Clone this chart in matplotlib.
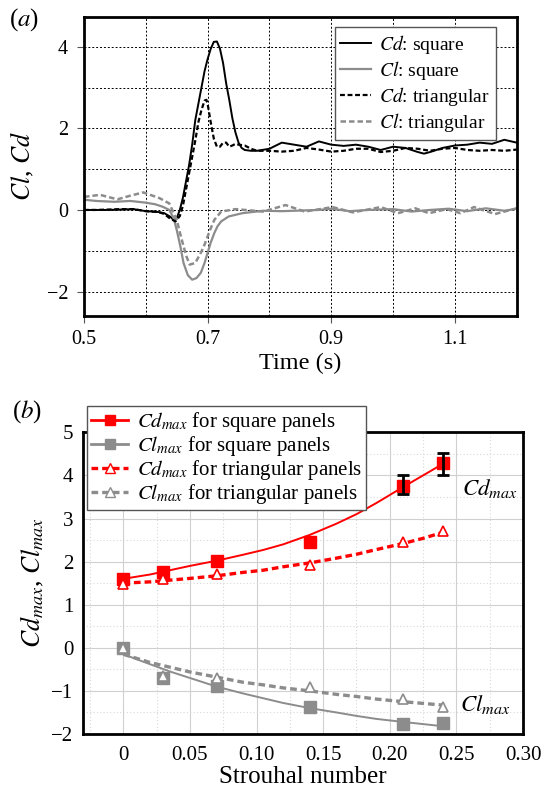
import matplotlib

matplotlib.use('Agg')
import matplotlib.pyplot as plt
from matplotlib.lines import Line2D
from matplotlib.ticker import MultipleLocator

plt.rcParams['font.family'] = ['Liberation Serif', 'DejaVu Serif']
plt.rcParams['mathtext.fontset'] = 'stix'

# (a) tijdreeksen
t_cd_sq = [0.50, 0.52, 0.54, 0.56, 0.58, 0.60, 0.62, 0.63, 0.64, 0.645, 0.65, 0.655, 0.66, 0.665,
           0.67, 0.675, 0.68, 0.685, 0.69, 0.695, 0.70, 0.705, 0.71, 0.715, 0.72, 0.725, 0.73,
           0.735, 0.74, 0.745, 0.75, 0.755, 0.76, 0.77, 0.78, 0.80, 0.82, 0.84, 0.86, 0.88,
           0.90, 0.92, 0.94, 0.96, 0.98, 1.00, 1.02, 1.04, 1.05, 1.06, 1.08, 1.10, 1.12, 1.14,
           1.16, 1.18, 1.20]
cd_sq = [0.0, 0.0, 0.0, 0.01, 0.02, -0.03, -0.05, -0.08, -0.17, -0.25, -0.2, 0.0, 0.3, 0.7,
         1.1, 1.6, 2.2, 2.6, 3.0, 3.4, 3.7, 3.95, 4.12, 4.13, 3.95, 3.6, 3.1,
         2.7, 2.25, 1.9, 1.65, 1.52, 1.47, 1.45, 1.45, 1.5, 1.65, 1.6, 1.55, 1.68,
         1.6, 1.57, 1.6, 1.55, 1.47, 1.55, 1.52, 1.42, 1.38, 1.42, 1.52, 1.58, 1.6, 1.65,
         1.62, 1.72, 1.65]

t_cd_tr = [0.50, 0.52, 0.54, 0.56, 0.58, 0.60, 0.62, 0.63, 0.64, 0.648, 0.655, 0.66, 0.665, 0.67,
           0.675, 0.68, 0.685, 0.69, 0.695, 0.698, 0.70, 0.705, 0.71, 0.715, 0.72, 0.725, 0.73,
           0.735, 0.74, 0.745, 0.75, 0.76, 0.77, 0.78, 0.80, 0.82, 0.84, 0.86, 0.88, 0.90,
           0.92, 0.94, 0.96, 0.98, 1.00, 1.02, 1.04, 1.06, 1.08, 1.10, 1.12, 1.14, 1.16,
           1.18, 1.20]
cd_tr = [0.0, 0.0, 0.01, 0.02, 0.02, -0.03, -0.05, -0.1, -0.22, -0.28, -0.15, 0.1, 0.5, 0.9,
         1.3, 1.7, 2.15, 2.45, 2.68, 2.7, 2.6, 2.15, 1.75, 1.55, 1.55, 1.65, 1.65,
         1.55, 1.58, 1.62, 1.6, 1.58, 1.5, 1.45, 1.45, 1.43, 1.45, 1.52, 1.48, 1.43,
         1.45, 1.5, 1.5, 1.42, 1.45, 1.52, 1.5, 1.45, 1.5, 1.52, 1.47, 1.45, 1.47,
         1.45, 1.48]

t_cl_sq = [0.50, 0.52, 0.549, 0.575, 0.599, 0.615, 0.627, 0.638, 0.645, 0.65, 0.656, 0.661,
           0.668, 0.675, 0.682, 0.689, 0.695, 0.70, 0.705, 0.711, 0.716, 0.722, 0.734, 0.756,
           0.79, 0.82, 0.84, 0.88, 0.90, 0.93, 0.96, 1.00, 1.03, 1.06, 1.09, 1.12, 1.15,
           1.18, 1.20]
cl_sq = [0.25, 0.22, 0.2, 0.22, 0.18, 0.14, 0.08, 0.0, -0.2, -0.49, -0.9, -1.3,
         -1.6, -1.71, -1.67, -1.54, -1.3, -1.05, -0.8, -0.56, -0.4, -0.28, -0.16, -0.08,
         -0.02, -0.03, -0.02, 0.0, 0.03, -0.03, 0.0, 0.02, -0.04, 0.0, 0.03, -0.03, 0.04,
         -0.02, 0.03]

t_cl_tr = [0.50, 0.526, 0.554, 0.575, 0.596, 0.622, 0.638, 0.65, 0.655, 0.661, 0.666, 0.671,
           0.68, 0.689, 0.695, 0.70, 0.705, 0.711, 0.722, 0.745, 0.79, 0.826, 0.857, 0.902,
           0.935, 0.98, 1.008, 1.036, 1.058, 1.087, 1.109, 1.131, 1.165, 1.20]
cl_tr = [0.32, 0.37, 0.26, 0.35, 0.43, 0.29, 0.16, -0.24, -0.55, -0.89, -1.15, -1.34,
         -1.3, -1.05, -0.85, -0.65, -0.45, -0.24, -0.04, 0.02, -0.04, 0.12, -0.04, 0.07,
         -0.06, 0.07, -0.08, 0.04, -0.08, 0.02, -0.08, 0.07, -0.1, 0.04]

# (b) maxima tegen Strouhal-getal
st = [0, 0.03, 0.07, 0.14, 0.21, 0.24]
cd_max_sq = [1.6, 1.77, 2.02, 2.45, 3.76, 4.28]
cl_max_sq = [0.0, -0.71, -0.88, -1.37, -1.77, -1.75]
cd_max_tr = [1.47, 1.59, 1.72, 1.92, 2.45, 2.72]
cl_max_tr = [0.0, -0.65, -0.69, -0.92, -1.19, -1.38]
st_err = [0.21, 0.24]
cd_err_mid = [3.79, 4.27]
cd_err = [0.23, 0.25]

st_fit = [0, 0.02, 0.035, 0.05, 0.07, 0.09, 0.105, 0.12, 0.14, 0.16, 0.175, 0.19, 0.21, 0.225, 0.24]
cd_fit_sq = [1.6, 1.7, 1.8, 1.9, 2.02, 2.16, 2.27, 2.4, 2.62, 2.88, 3.1, 3.36, 3.73, 4.0, 4.27]
cd_fit_tr = [1.5, 1.53, 1.57, 1.61, 1.67, 1.75, 1.8, 1.88, 1.97, 2.08, 2.17, 2.28, 2.42, 2.54, 2.68]
cl_fit_sq = [-0.15, -0.38, -0.55, -0.7, -0.9, -1.06, -1.17, -1.28, -1.4, -1.5, -1.58, -1.65,
             -1.72, -1.77, -1.82]
cl_fit_tr = [-0.15, -0.34, -0.45, -0.56, -0.68, -0.8, -0.86, -0.93, -1.0, -1.08, -1.13, -1.19,
             -1.25, -1.29, -1.33]

GRIJS = '#8c8c8c'
ROOD = '#ff0000'

fig = plt.figure(figsize=(5.42, 7.89), dpi=100)
W, H = 542, 789

# ---------- paneel (a) ----------
ax1 = fig.add_axes([84 / W, 1 - 316 / H, (516.7 - 84) / W, (316 - 17) / H])
ax1.plot(t_cd_sq, cd_sq, color='black', lw=1.4, label='$Cd$: square')
ax1.plot(t_cl_sq, cl_sq, color=GRIJS, lw=1.6, label='$Cl$: square')
ax1.plot(t_cd_tr, cd_tr, color='black', lw=1.6, ls=(0, (2.2, 1.2)), label='$Cd$: triangular')
ax1.plot(t_cl_tr, cl_tr, color=GRIJS, lw=1.8, ls=(0, (2.2, 1.2)), label='$Cl$: triangular')
ax1.set_xlim(0.5, 1.2)
ax1.set_ylim(-2.6, 4.73)
ax1.set_xticks([0.5, 0.7, 0.9, 1.1])
ax1.set_xticklabels(['0.5', '0.7', '0.9', '1.1'])
ax1.set_yticks([-2, 0, 2, 4])
ax1.set_yticklabels(['\u22122', '0', '2', '4'])
ax1.xaxis.set_minor_locator(MultipleLocator(0.1))
ax1.yaxis.set_minor_locator(MultipleLocator(1))
ax1.grid(True, which='both', color='black', lw=0.7, ls=(0, (2, 2)))
ax1.tick_params(which='major', direction='out', length=5, width=0.8, color='#555555',
                labelsize=14.5)
ax1.tick_params(axis='x', pad=5)
ax1.tick_params(axis='y', pad=6.5)
ax1.tick_params(which='minor', length=0)
for s in ax1.spines.values():
    s.set_linewidth(2)
fig.text(300 / W, 1 - 363 / H, 'Time (s)', fontsize=17.5, ha='center', va='center')
fig.text(22 / W, 1 - 166 / H, '$Cl$, $Cd$', fontsize=18.5, rotation=90, ha='center', va='center')
leg1 = ax1.legend(loc='upper right', bbox_to_anchor=(495.7 / W, 1 - 27.3 / H),
                  bbox_transform=fig.transFigure, borderaxespad=0, fontsize=14,
                  fancybox=False, framealpha=1, edgecolor='#555555', handlelength=1.6,
                  labelspacing=0.15, handletextpad=0.4, borderpad=0.3)
leg1.get_frame().set_linewidth(1)
fig.text(9 / W, 1 - 20 / H, '($a$)', fontsize=18, va='center', ha='left')

# ---------- paneel (b) ----------
ax2 = fig.add_axes([83.3 / W, 1 - 734 / H, (523 - 83.3) / W, (734 - 432.3) / H])
ax2.plot(st_fit, cd_fit_sq, color=ROOD, lw=1.4)
ax2.plot(st_fit, cd_fit_tr, color=ROOD, lw=2.4, ls=(0, (2, 1.2)))
ax2.plot(st_fit, cl_fit_sq, color=GRIJS, lw=1.4)
ax2.plot(st_fit, cl_fit_tr, color=GRIJS, lw=2.4, ls=(0, (2, 1.2)))
ax2.plot(st, cd_max_sq, 's', color=ROOD, ms=8.5, zorder=4)
ax2.plot(st, cl_max_sq, 's', color=GRIJS, ms=8.5, zorder=4)
ax2.plot(st, cd_max_tr, '^', mfc='white', mec=ROOD, mew=1.2, ms=7.5, zorder=4)
ax2.plot(st, cl_max_tr, '^', mfc='white', mec=GRIJS, mew=1.2, ms=7.5, zorder=4)
ax2.errorbar(st_err, cd_err_mid, yerr=cd_err, fmt='none', ecolor='black', elinewidth=2,
             capsize=4, capthick=2, zorder=5)
ax2.set_xlim(-0.03, 0.30)
ax2.set_ylim(-2, 5)
ax2.set_xticks([0, 0.05, 0.10, 0.15, 0.20, 0.25, 0.30])
ax2.set_xticklabels(['0', '0.05', '0.10', '0.15', '0.20', '0.25', '0.30'])
ax2.set_yticks(range(-2, 6))
ax2.set_yticklabels(['\u22122', '\u22121', '0', '1', '2', '3', '4', '5'])
ax2.xaxis.set_minor_locator(MultipleLocator(0.025))
ax2.yaxis.set_minor_locator(MultipleLocator(0.5))
ax2.grid(True, which='major', color='#d0d0d0', lw=0.8)
ax2.grid(True, which='minor', color='#d8d8d8', lw=0.8, ls=(0, (1, 2)))
ax2.set_axisbelow(True)
ax2.tick_params(which='both', length=0, labelsize=15)
ax2.tick_params(axis='x', pad=9)
ax2.tick_params(axis='y', pad=7)
for s in ax2.spines.values():
    s.set_linewidth(2)
fig.text(303 / W, 1 - 777 / H, 'Strouhal number', fontsize=18, ha='center', va='center')
fig.text(32 / W, 1 - 583 / H, '$Cd_{max}$, $Cl_{max}$', fontsize=18.5, rotation=90,
         ha='center', va='center')
ax2.text(0.254, 3.69, '$Cd_{max}$', fontsize=16.5, va='center', ha='left')
ax2.text(0.253, -1.31, '$Cl_{max}$', fontsize=16.5, va='center', ha='left')

handles = [
    Line2D([], [], color=ROOD, lw=2, marker='s', ms=7),
    Line2D([], [], color=GRIJS, lw=2, marker='s', ms=7),
    Line2D([], [], color=ROOD, lw=2.4, ls=(0, (2, 1.2)), marker='^', mfc='white', mec=ROOD, ms=7),
    Line2D([], [], color=GRIJS, lw=2.4, ls=(0, (2, 1.2)), marker='^', mfc='white', mec=GRIJS, ms=7),
]
labels = ['$Cd_{max}$ for square panels', '$Cl_{max}$ for square panels',
          '$Cd_{max}$ for triangular panels', '$Cl_{max}$ for triangular panels']
leg2 = ax2.legend(handles, labels, loc='upper left', bbox_to_anchor=(86.7 / W, 1 - 405.7 / H),
                  bbox_transform=fig.transFigure, borderaxespad=0, fontsize=15,
                  fancybox=False, framealpha=1, edgecolor='#555555', handlelength=1.8,
                  labelspacing=0.0, handletextpad=0.4, borderpad=0.2)
leg2.get_frame().set_linewidth(1)
fig.text(12 / W, 1 - 412 / H, '($b$)', fontsize=18, va='center', ha='left')

fig.savefig('out.png', dpi=100)
